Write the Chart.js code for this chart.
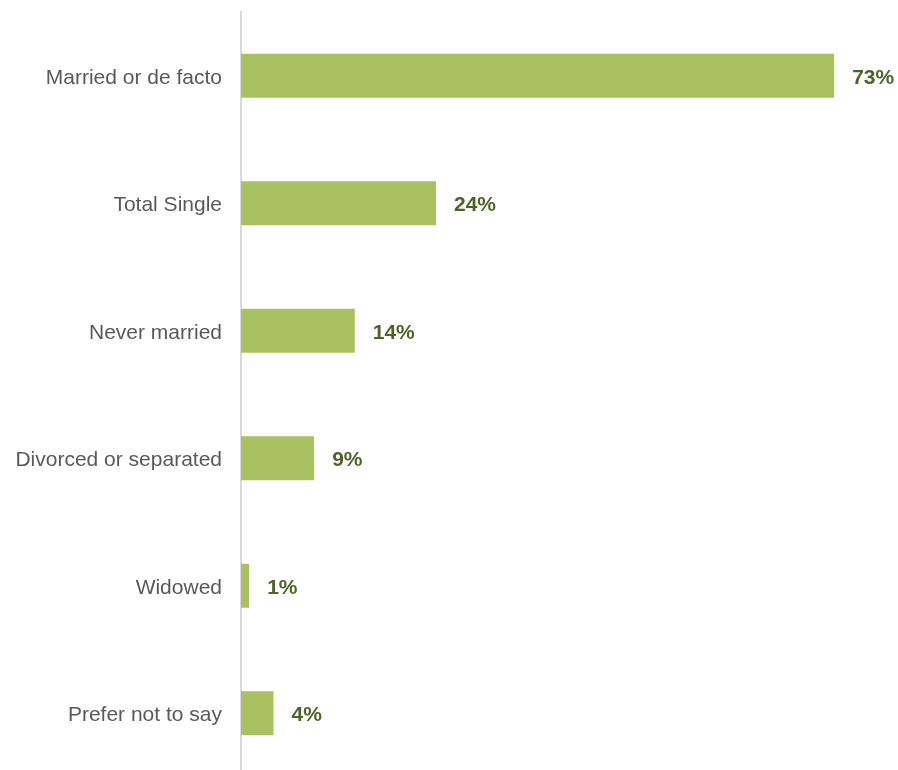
<!DOCTYPE html>
<html>
<head>
<meta charset="utf-8">
<title>Marital status</title>
<script src="https://cdn.jsdelivr.net/npm/chart.js@4/dist/chart.umd.min.js"></script>
<style>
  html, body { margin: 0; padding: 0; background: #ffffff; overflow: hidden; }
  #wrap { width: 898px; height: 777px; }
</style>
</head>
<body>
<div id="wrap"><canvas id="chart" width="898" height="777"></canvas></div>
<script>
const categories = [
  'Married or de facto',
  'Total Single',
  'Never married',
  'Divorced or separated',
  'Widowed',
  'Prefer not to say'
];
const shares = [73, 24, 14, 9, 1, 4];

const BAR_GREEN = '#a9c160';
const LABEL_GREEN = '#4f6228';
const FONT = '"Liberation Sans", Arial, sans-serif';

// Write the percentage just past the end of each bar
const valueLabels = {
  id: 'valueLabels',
  afterDatasetsDraw(chart) {
    const ctx = chart.ctx;
    const meta = chart.getDatasetMeta(0);
    ctx.save();
    ctx.font = 'bold 21px ' + FONT;
    ctx.fillStyle = LABEL_GREEN;
    ctx.textAlign = 'left';
    ctx.textBaseline = 'middle';
    meta.data.forEach((bar, i) => {
      ctx.fillText(shares[i] + '%', bar.x + 18, bar.y + 2);
    });
    ctx.restore();
  }
};

new Chart(document.getElementById('chart'), {
  type: 'bar',
  data: {
    labels: categories,
    datasets: [{
      data: shares,
      backgroundColor: BAR_GREEN,
      borderWidth: 0,
      categoryPercentage: 1,
      barPercentage: 0.345
    }]
  },
  options: {
    indexAxis: 'y',
    responsive: false,
    animation: false,
    layout: { padding: { top: 12, right: 7, bottom: 0, left: 0 } },
    plugins: {
      legend: { display: false },
      tooltip: { enabled: false }
    },
    scales: {
      x: {
        display: false,
        min: 0,
        max: 80
      },
      y: {
        // fixed label column; no extra room above/below for the labels
        afterFit(scale) {
          scale.width = 241;
          scale.paddingTop = 0;
          scale.paddingBottom = 0;
        },
        grid: { display: false, drawTicks: false },
        border: { display: true, color: '#d9d9d9', width: 2 },
        ticks: {
          padding: 19,
          labelOffset: 2,
          color: '#595959',
          font: { family: FONT, size: 21 }
        }
      }
    }
  },
  plugins: [valueLabels]
});
</script>
</body>
</html>
